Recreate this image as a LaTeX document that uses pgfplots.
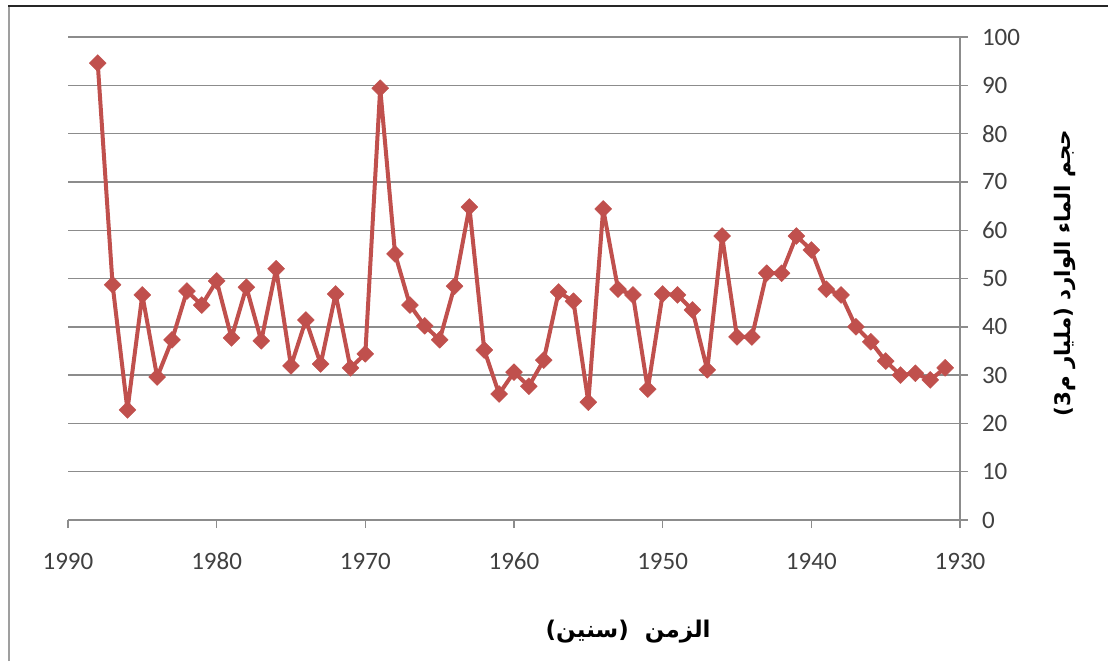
\documentclass[border=0pt]{standalone}
\usepackage{fontspec}
\usepackage{pgfplots}
\pgfplotsset{compat=1.18}
\setmainfont{Carlito}
\newfontfamily\arabicfont[Script=Arabic]{DejaVu Sans}
\TeXXeTstate=1
\definecolor{serred}{HTML}{C0504D}
\definecolor{gridgray}{HTML}{8C8C8C}
\definecolor{labgray}{HTML}{404040}

\pgfplotstableread{
year value
1988 94.6
1987 48.7
1986 22.8
1985 46.6
1984 29.6
1983 37.3
1982 47.4
1981 44.5
1980 49.5
1979 37.7
1978 48.2
1977 37.1
1976 52.0
1975 31.9
1974 41.4
1973 32.3
1972 46.8
1971 31.5
1970 34.4
1969 89.4
1968 55.1
1967 44.5
1966 40.2
1965 37.3
1964 48.4
1963 64.8
1962 35.2
1961 26.1
1960 30.6
1959 27.7
1958 33.1
1957 47.2
1956 45.3
1955 24.4
1954 64.4
1953 47.8
1952 46.6
1951 27.1
1950 46.8
1949 46.6
1948 43.5
1947 31.1
1946 58.8
1945 37.9
1944 37.9
1943 51.1
1942 51.1
1941 58.8
1940 55.9
1939 47.8
1938 46.6
1937 40.0
1936 36.9
1935 32.9
1934 30.0
1933 30.4
1932 29.0
1931 31.5
}\datatable

\begin{document}
\begin{tikzpicture}
\begin{axis}[
  at={(34pt,70.5pt)}, anchor=south west,
  scale only axis, width=446pt, height=241.5pt,
  xmin=1930, xmax=1990, x dir=reverse,
  ymin=0, ymax=100,
  axis x line*=bottom, axis y line*=right,
  xtick={1930,1940,...,1990}, ytick={0,10,...,100},
  ymajorgrids,
  grid style={gridgray, line width=0.7pt},
  axis line style={gridgray, line width=0.7pt, -},
  tick style={gridgray, line width=0.7pt},
  tick align=outside, major tick length=4pt,
  /pgf/number format/assume math mode=true,
  /pgf/number format/1000 sep={},
  ticklabel style={font=\fontsize{12.5}{15}\selectfont, text=labgray},
  xticklabel style={yshift=-9pt, text height=8pt, text depth=0pt},
  yticklabel style={xshift=3.5pt},
  xlabel={\arabicfont\bfseries\beginR الزمن\ \ (سنين)\endR},
  ylabel={\arabicfont\bfseries\beginR حجم الماء الوارد (مليار م3)\endR},
  xlabel style={at={(axis description cs:0.628,-0.232)}, anchor=center, font=\fontsize{11.5}{13}\selectfont},
  ylabel style={at={(axis description cs:1.118,0.511)}, anchor=center, font=\fontsize{10.7}{13}\selectfont},
  clip=false,
]
\addplot[serred, line width=2pt, line join=round, mark=square*, mark size=3pt,
  mark options={rotate=45, solid, fill=serred, draw=serred, line width=0.2pt}]
  table[x=year, y=value] {\datatable};
\end{axis}
\draw[gray!75, line width=1.2pt] (4.6pt,0pt) -- (4.6pt,327.5pt);
\draw[black!85, line width=0.7pt] (4pt,327.5pt) -- (554pt,327.5pt);
\pgfresetboundingbox
\path[use as bounding box] (0pt,0pt) rectangle (554pt,330.5pt);
\end{tikzpicture}
\end{document}
